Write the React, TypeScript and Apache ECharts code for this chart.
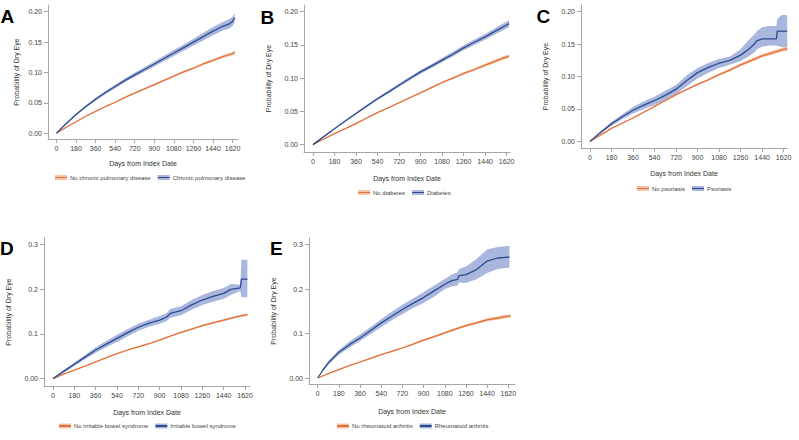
import React, { useEffect, useRef } from "react";
import * as echarts from "echarts";

// ---------- data ----------
const xTicks = [0, 180, 360, 540, 720, 900, 1080, 1260, 1440, 1620];
const yTicksSmall = [0, 0.05, 0.1, 0.15, 0.2];
const yTicksLarge = [0, 0.1, 0.2, 0.3];

const panelLetters = ["A", "B", "C", "D", "E"];
const noNames = ["No chronic pulmonary disease", "No diabetes", "No psoriasis", "No irritable bowel syndrome", "No rheumatoid arthritis"];
const yesNames = ["Chronic pulmonary disease", "Diabetes", "Psoriasis", "Irritable bowel syndrome", "Rheumatoid arthritis"];

// Panel A
const aNoDays = [0, 90, 180, 270, 360, 450, 540, 630, 720, 810, 900, 990, 1080, 1170, 1260, 1350, 1440, 1530, 1620, 1640];
const aNoMid = [0, 0.010, 0.019, 0.028, 0.036, 0.044, 0.051, 0.059, 0.066, 0.073, 0.080, 0.087, 0.094, 0.101, 0.107, 0.114, 0.120, 0.126, 0.131, 0.133];
const aNoLo = [0, 0.0095, 0.0185, 0.0274, 0.0353, 0.0432, 0.0501, 0.058, 0.0649, 0.0718, 0.0786, 0.0855, 0.0924, 0.0993, 0.1052, 0.112, 0.1179, 0.1237, 0.1285, 0.1302];
const aNoHi = [0, 0.0105, 0.0195, 0.0286, 0.0367, 0.0448, 0.0519, 0.060, 0.0671, 0.0742, 0.0814, 0.0885, 0.0956, 0.1027, 0.1088, 0.116, 0.1221, 0.1283, 0.1335, 0.1358];
const aYesDays = [0, 90, 180, 270, 360, 450, 540, 630, 720, 810, 900, 990, 1080, 1170, 1260, 1350, 1440, 1530, 1590, 1620, 1640];
const aYesMid = [0, 0.016, 0.031, 0.044, 0.056, 0.067, 0.077, 0.087, 0.096, 0.105, 0.114, 0.123, 0.132, 0.141, 0.150, 0.159, 0.168, 0.176, 0.180, 0.184, 0.190];
const aYesLo = [0, 0.015, 0.0295, 0.0422, 0.0537, 0.0644, 0.0741, 0.0838, 0.0925, 0.1012, 0.1098, 0.1185, 0.1272, 0.1358, 0.1445, 0.1528, 0.1612, 0.169, 0.1725, 0.1765, 0.1825];
const aYesHi = [0, 0.017, 0.0325, 0.0458, 0.0583, 0.0696, 0.0799, 0.0902, 0.0995, 0.1088, 0.1182, 0.1275, 0.1368, 0.1462, 0.1555, 0.1652, 0.1748, 0.183, 0.1875, 0.1915, 0.1975];

// Panel B
const bNoDays = [0, 90, 180, 270, 360, 450, 540, 630, 720, 810, 900, 990, 1080, 1170, 1260, 1350, 1440, 1530, 1620, 1640];
const bNoMid = [0, 0.0085, 0.0166, 0.024, 0.0316, 0.040, 0.048, 0.0555, 0.063, 0.0705, 0.078, 0.0857, 0.0934, 0.100, 0.107, 0.113, 0.1195, 0.126, 0.132, 0.133];
const bNoLo = [0, 0.0081, 0.016, 0.0233, 0.0308, 0.0391, 0.047, 0.0544, 0.0618, 0.0692, 0.0766, 0.0842, 0.0918, 0.0983, 0.1052, 0.111, 0.1173, 0.1235, 0.1293, 0.1303];
const bNoHi = [0, 0.0089, 0.0172, 0.0247, 0.0324, 0.0409, 0.049, 0.0566, 0.0642, 0.0718, 0.0794, 0.0872, 0.095, 0.1017, 0.1088, 0.115, 0.1217, 0.1285, 0.1347, 0.1357];
const bYesDays = [0, 90, 180, 270, 360, 450, 540, 630, 720, 810, 900, 990, 1080, 1170, 1260, 1350, 1440, 1530, 1620, 1640];
const bYesMid = [0, 0.012, 0.024, 0.0355, 0.0467, 0.058, 0.069, 0.079, 0.0894, 0.0995, 0.1094, 0.118, 0.127, 0.136, 0.1456, 0.154, 0.162, 0.171, 0.180, 0.182];
const bYesLo = [0, 0.0114, 0.0232, 0.0344, 0.0452, 0.0562, 0.067, 0.0768, 0.087, 0.097, 0.1066, 0.115, 0.1238, 0.1325, 0.1418, 0.15, 0.1578, 0.1662, 0.1748, 0.1765];
const bYesHi = [0, 0.0126, 0.0248, 0.0366, 0.0482, 0.0598, 0.071, 0.0812, 0.0918, 0.102, 0.1122, 0.121, 0.1302, 0.1395, 0.1494, 0.158, 0.1662, 0.1758, 0.1852, 0.1875];

// Panel C
const cNoDays = [0, 90, 180, 270, 360, 450, 540, 630, 720, 810, 900, 990, 1080, 1170, 1260, 1350, 1440, 1530, 1620, 1650];
const cNoMid = [0, 0.010, 0.020, 0.028, 0.036, 0.045, 0.054, 0.063, 0.072, 0.080, 0.088, 0.095, 0.103, 0.110, 0.118, 0.125, 0.132, 0.137, 0.142, 0.143];
const cNoLo = [0, 0.0095, 0.0194, 0.0273, 0.0352, 0.0441, 0.053, 0.0619, 0.0708, 0.0786, 0.0865, 0.0933, 0.1012, 0.108, 0.1157, 0.1225, 0.1292, 0.134, 0.1388, 0.1395];
const cNoHi = [0, 0.0105, 0.0206, 0.0287, 0.0368, 0.0459, 0.055, 0.0641, 0.0732, 0.0814, 0.0895, 0.0967, 0.1048, 0.112, 0.1203, 0.1275, 0.1348, 0.14, 0.1452, 0.1465];
const cYesDays = [0, 90, 180, 270, 360, 450, 540, 630, 720, 810, 900, 990, 1080, 1170, 1260, 1320, 1380, 1395, 1440, 1500, 1560, 1566, 1600, 1650];
const cYesMid = [0, 0.014, 0.027, 0.038, 0.048, 0.056, 0.063, 0.071, 0.0805, 0.094, 0.106, 0.114, 0.1205, 0.125, 0.133, 0.141, 0.151, 0.155, 0.158, 0.158, 0.158, 0.170, 0.170, 0.170];
const cYesLo = [0, 0.012, 0.024, 0.034, 0.043, 0.050, 0.056, 0.064, 0.073, 0.085, 0.097, 0.106, 0.113, 0.118, 0.124, 0.130, 0.138, 0.142, 0.146, 0.148, 0.148, 0.147, 0.146, 0.145];
const cYesHi = [0, 0.016, 0.030, 0.042, 0.053, 0.062, 0.069, 0.078, 0.087, 0.102, 0.113, 0.121, 0.127, 0.131, 0.142, 0.155, 0.166, 0.170, 0.176, 0.178, 0.178, 0.188, 0.195, 0.195];

// Panel D
const dNoDays = [0, 90, 180, 270, 360, 450, 540, 630, 720, 810, 900, 990, 1080, 1170, 1260, 1350, 1440, 1530, 1620, 1640];
const dNoMid = [0, 0.010, 0.019, 0.028, 0.0375, 0.047, 0.056, 0.064, 0.071, 0.078, 0.086, 0.095, 0.1035, 0.111, 0.1185, 0.125, 0.131, 0.137, 0.1425, 0.143];
const dNoLo = [0, 0.0095, 0.0184, 0.0272, 0.0366, 0.046, 0.0549, 0.0628, 0.0697, 0.0766, 0.0845, 0.0934, 0.1018, 0.1092, 0.1165, 0.1228, 0.1286, 0.1344, 0.1397, 0.1402];
const dNoHi = [0, 0.0105, 0.0196, 0.0288, 0.0384, 0.048, 0.0571, 0.0652, 0.0723, 0.0794, 0.0875, 0.0966, 0.1052, 0.1128, 0.1205, 0.1272, 0.1334, 0.1396, 0.1453, 0.1458];
const dYesDays = [0, 90, 180, 270, 360, 450, 540, 630, 720, 810, 900, 960, 990, 1080, 1170, 1260, 1350, 1440, 1500, 1580, 1590, 1640];
const dYesMid = [0, 0.016, 0.032, 0.048, 0.064, 0.077, 0.090, 0.103, 0.115, 0.124, 0.131, 0.138, 0.146, 0.152, 0.165, 0.176, 0.184, 0.191, 0.200, 0.203, 0.223, 0.223];
const dYesLo = [0, 0.013, 0.028, 0.043, 0.058, 0.070, 0.082, 0.095, 0.107, 0.116, 0.123, 0.129, 0.136, 0.142, 0.154, 0.165, 0.172, 0.179, 0.187, 0.196, 0.182, 0.182];
const dYesHi = [0, 0.019, 0.036, 0.053, 0.070, 0.084, 0.098, 0.111, 0.123, 0.132, 0.140, 0.147, 0.156, 0.162, 0.176, 0.1875, 0.196, 0.203, 0.212, 0.210, 0.266, 0.266];

// Panel E
const eNoDays = [0, 90, 180, 270, 360, 450, 540, 630, 720, 810, 900, 990, 1080, 1170, 1260, 1350, 1440, 1530, 1620, 1640];
const eNoMid = [0, 0.010, 0.019, 0.028, 0.036, 0.044, 0.0526, 0.060, 0.0675, 0.076, 0.085, 0.093, 0.1015, 0.110, 0.118, 0.124, 0.131, 0.135, 0.139, 0.140];
const eNoLo = [0, 0.0095, 0.0184, 0.0272, 0.035, 0.0428, 0.0512, 0.0584, 0.0657, 0.074, 0.0828, 0.0906, 0.0989, 0.1073, 0.115, 0.1208, 0.1275, 0.1313, 0.135, 0.1358];
const eNoHi = [0, 0.0105, 0.0196, 0.0288, 0.037, 0.0452, 0.054, 0.0616, 0.0693, 0.078, 0.0872, 0.0954, 0.1041, 0.1127, 0.121, 0.1272, 0.1345, 0.1387, 0.143, 0.1442];
const eYesDays = [0, 45, 90, 180, 270, 360, 450, 540, 630, 720, 810, 900, 990, 1080, 1140, 1190, 1200, 1260, 1350, 1440, 1530, 1620, 1630];
const eYesMid = [0, 0.018, 0.034, 0.058, 0.075, 0.090, 0.107, 0.124, 0.139, 0.154, 0.168, 0.181, 0.196, 0.211, 0.219, 0.222, 0.230, 0.2325, 0.244, 0.263, 0.270, 0.272, 0.272];
const eYesLo = [0, 0.016, 0.030, 0.053, 0.068, 0.083, 0.099, 0.115, 0.130, 0.144, 0.157, 0.169, 0.183, 0.200, 0.206, 0.208, 0.215, 0.214, 0.222, 0.236, 0.245, 0.248, 0.248];
const eYesHi = [0, 0.020, 0.038, 0.063, 0.082, 0.098, 0.115, 0.133, 0.149, 0.165, 0.179, 0.193, 0.208, 0.223, 0.233, 0.238, 0.245, 0.251, 0.268, 0.289, 0.295, 0.297, 0.297];

// ---------- layout / style ----------
const ORANGE = "#e2703c";
const ORANGE_BAND = "#f7c5a6";
const BLUE = "#2d4a8c";
const BLUE_BAND = "#a9b7de";
const FONT = "'Liberation Sans', Arial, Helvetica, sans-serif";

const panels = [
  { grid: { left: 48, top: 5, width: 190, height: 134 }, x: [-78, 1670], y: [-0.0094, 0.211], yt: yTicksSmall, large: false, yGap: 28.5, xGap: 21, legend: { left: 55, top: 174.5 }, letter: { x: 0.5, y: 17.5 },
    no: [aNoDays, aNoMid, aNoLo, aNoHi], yes: [aYesDays, aYesMid, aYesLo, aYesHi] },
  { grid: { left: 304, top: 5, width: 206, height: 147 }, x: [-75, 1648], y: [-0.0111, 0.21], yt: yTicksSmall, large: false, yGap: 32.5, xGap: 23, legend: { left: 358, top: 189.5 }, letter: { x: 260.5, y: 18.5 },
    no: [bNoDays, bNoMid, bNoLo, bNoHi], yes: [bYesDays, bYesMid, bYesLo, bYesHi] },
  { grid: { left: 581, top: 5, width: 206, height: 143 }, x: [-75, 1648], y: [-0.0102, 0.2103], yt: yTicksSmall, large: false, yGap: 32.5, xGap: 22, legend: { left: 637, top: 185.5 }, letter: { x: 536.5, y: 17.5 },
    no: [cNoDays, cNoMid, cNoLo, cNoHi], yes: [cYesDays, cYesMid, cYesLo, cYesHi] },
  { grid: { left: 44, top: 238, width: 206, height: 148 }, x: [-76, 1662], y: [-0.0167, 0.315], yt: yTicksLarge, large: true, yGap: 32.5, xGap: 22.5, legend: { left: 59, top: 423 }, letter: { x: 0, y: 249.5 },
    no: [dNoDays, dNoMid, dNoLo, dNoHi], yes: [dYesDays, dYesMid, dYesLo, dYesHi] },
  { grid: { left: 309, top: 238, width: 206, height: 146 }, x: [-74, 1677], y: [-0.0135, 0.315], yt: yTicksLarge, large: true, yGap: 32, xGap: 24, legend: { left: 337, top: 423 }, letter: { x: 270, y: 249.5 },
    no: [eNoDays, eNoMid, eNoLo, eNoHi], yes: [eYesDays, eYesMid, eYesLo, eYesHi] },
];

function bandSeries(idx: number, days: number[], lo: number[], hi: number[], color: string) {
  const rows = days.map((d, i) => [d, lo[i], hi[i]]);
  return {
    type: "custom",
    xAxisIndex: idx,
    yAxisIndex: idx,
    data: rows,
    encode: { x: 0, y: [1, 2] },
    silent: true,
    z: 1,
    renderItem: (params: any, api: any) => {
      if (params.dataIndex !== 0) return null;
      const top = rows.map((r) => api.coord([r[0], r[2]]));
      const bot = rows.map((r) => api.coord([r[0], r[1]])).reverse();
      return { type: "polygon", shape: { points: top.concat(bot) }, style: { fill: color } };
    },
  };
}

function lineSeries(idx: number, name: string, days: number[], mid: number[], color: string) {
  return {
    type: "line",
    name,
    xAxisIndex: idx,
    yAxisIndex: idx,
    data: days.map((d, i) => [d, mid[i]]),
    showSymbol: false,
    symbol: "none",
    lineStyle: { width: 1.3, color },
    itemStyle: { color },
    z: 3,
  };
}

function swatch(band: string, line: string) {
  return new echarts.graphic.LinearGradient(0, 0, 0, 1, [
    { offset: 0, color: band },
    { offset: 0.36, color: band },
    { offset: 0.36, color: line },
    { offset: 0.64, color: line },
    { offset: 0.64, color: band },
    { offset: 1, color: band },
  ]);
}

export default function App() {
  const ref = useRef<HTMLDivElement>(null);
  useEffect(() => {
    if (!ref.current) return;
    const chart = echarts.init(ref.current, undefined, { renderer: "svg" });
    const axisColor = "#a6a6a6";
    const grid: any[] = [];
    const xAxis: any[] = [];
    const yAxis: any[] = [];
    const series: any[] = [];
    const legend: any[] = [];
    const graphic: any[] = [];
    panels.forEach((p, i) => {
      grid.push({ ...p.grid, containLabel: false });
      xAxis.push({
        type: "value",
        gridIndex: i,
        min: p.x[0],
        max: p.x[1],
        name: "Days from Index Date",
        nameLocation: "middle",
        nameGap: p.xGap,
        nameTextStyle: { fontSize: 7, color: "#333", fontFamily: FONT },
        axisLine: { onZero: false, lineStyle: { color: axisColor, width: 1 } },
        axisTick: { show: true, length: 4, customValues: xTicks, lineStyle: { color: axisColor } },
        axisLabel: { customValues: xTicks, fontSize: 7, color: "#444", margin: 6, fontFamily: FONT, formatter: (v: number) => String(v) },
        splitLine: { show: false },
      });
      yAxis.push({
        type: "value",
        gridIndex: i,
        min: p.y[0],
        max: p.y[1],
        name: "Probability of Dry Eye",
        nameLocation: "middle",
        nameGap: p.yGap,
        nameTextStyle: { fontSize: 7, color: "#333", fontFamily: FONT },
        axisLine: { show: true, onZero: false, lineStyle: { color: axisColor, width: 1 } },
        axisTick: { show: true, length: 4, customValues: p.yt, lineStyle: { color: axisColor } },
        axisLabel: {
          customValues: p.yt,
          fontSize: 7,
          color: "#444",
          margin: 6,
          fontFamily: FONT,
          formatter: (v: number) => (p.large ? (Math.abs(v) < 1e-9 ? "0.00" : v.toFixed(1)) : v.toFixed(2)),
        },
        splitLine: { show: false },
      });
      const [nd, nm, nl, nh] = p.no;
      const [yd, ym, yl, yh] = p.yes;
      series.push(bandSeries(i, nd, nl, nh, ORANGE_BAND));
      series.push(bandSeries(i, yd, yl, yh, BLUE_BAND));
      series.push(lineSeries(i, noNames[i], nd, nm, ORANGE));
      series.push(lineSeries(i, yesNames[i], yd, ym, BLUE));
      legend.push({
        left: p.legend.left,
        top: p.legend.top,
        orient: "horizontal",
        padding: 0,
        itemGap: 7,
        itemWidth: 12,
        itemHeight: 5,
        selectedMode: false,
        textStyle: { fontSize: 6, color: "#444", fontFamily: FONT, padding: [0, 0, 0, -2] },
        data: [
          { name: noNames[i], icon: "rect", itemStyle: { color: swatch(ORANGE_BAND, ORANGE) } },
          { name: yesNames[i], icon: "rect", itemStyle: { color: swatch(BLUE_BAND, BLUE) } },
        ],
      });
      graphic.push({
        type: "text",
        left: p.letter.x,
        top: p.letter.y - 11,
        style: { text: panelLetters[i], font: `bold 19px ${FONT}`, fill: "#000" },
      });
    });
    chart.setOption({
      animation: false,
      backgroundColor: "#fff",
      grid,
      xAxis,
      yAxis,
      series,
      legend,
      graphic,
    });
    return () => chart.dispose();
  }, []);
  return <div ref={ref} style={{ position: "absolute", left: 0, top: 0, width: 799, height: 440 }} />;
}
